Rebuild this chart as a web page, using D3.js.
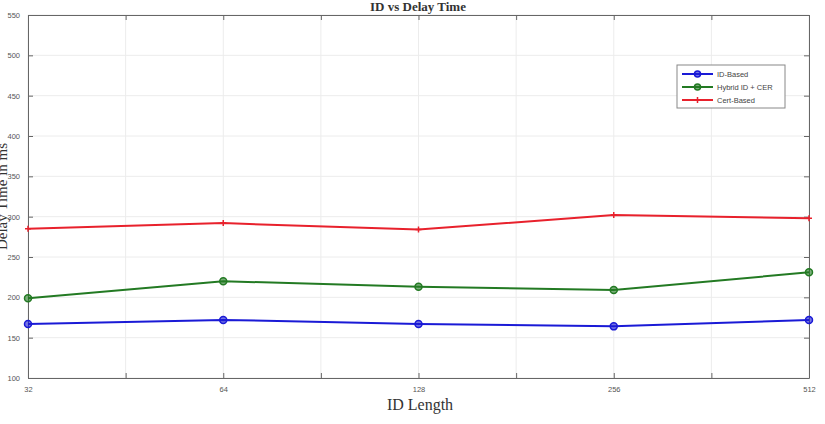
<!DOCTYPE html>
<html>
<head>
<meta charset="utf-8">
<script src="https://cdn.jsdelivr.net/npm/d3@7"></script>
<style>
  body { margin: 0; background: #fff; }
  svg { display: block; }
</style>
</head>
<body>
<div id="chart"></div>
<script>
const idLengths = ['32', '64', '128', '256', '512'];
const idBased = [167, 172, 167, 164, 172];
const hybrid = [199, 220, 213, 209, 231];
const certBased = [285, 292, 284, 302, 298];
const yTicks = [100, 150, 200, 250, 300, 350, 400, 450, 500, 550];
const seriesNames = ['ID-Based', 'Hybrid ID + CER', 'Cert-Based'];

const w = 825;
const h = 424;
const plotLeft = 28, plotRight = 809, plotTop = 15, plotBottom = 378;

const series = [
  { name: seriesNames[0], values: idBased, color: '#1a1ad6', marker: 'circle' },
  { name: seriesNames[1], values: hybrid, color: '#237a23', marker: 'circle' },
  { name: seriesNames[2], values: certBased, color: '#e8212c', marker: 'plus' }
];

const xScale = d3.scaleLinear()
                 .domain([0, idLengths.length - 1])
                 .range([plotLeft, plotRight]);

const yScale = d3.scaleLinear()
                 .domain([100, 550])
                 .range([plotBottom, plotTop]);

const svg = d3.select('#chart')
              .append('svg')
              .attr('width', w)
              .attr('height', h);

// half steps on x, like the reference
const xTicks = d3.range(0, idLengths.length - 0.99, 0.5);

// grid
svg.append('g')
   .selectAll('line')
   .data(yTicks)
   .enter()
   .append('line')
   .attr('x1', plotLeft)
   .attr('x2', plotRight)
   .attr('y1', d => yScale(d))
   .attr('y2', d => yScale(d))
   .style('stroke', '#ececec');

svg.append('g')
   .selectAll('line')
   .data(xTicks)
   .enter()
   .append('line')
   .attr('x1', d => xScale(d))
   .attr('x2', d => xScale(d))
   .attr('y1', plotTop)
   .attr('y2', plotBottom)
   .style('stroke', '#ececec');

const xAxis = d3.axisBottom(xScale)
                .tickValues(xTicks)
                .tickSizeInner(-5)
                .tickSizeOuter(0)
                .tickPadding(9)
                .tickFormat(d => Number.isInteger(d) ? idLengths[d] : '');

const yAxis = d3.axisLeft(yScale)
                .tickValues(yTicks)
                .tickSizeInner(-5)
                .tickSizeOuter(0)
                .tickPadding(8)
                .tickFormat(d3.format('d'));

const axisStyle = g => {
  g.select('.domain').style('stroke', '#666');
  g.selectAll('.tick line').style('stroke', '#666');
  g.selectAll('text').style('fill', '#555').style('font-family', 'Liberation Sans, Arial, sans-serif').style('font-size', '7.5px');
};

svg.append('g')
   .attr('transform', 'translate(0,' + plotBottom + ')')
   .call(xAxis)
   .call(axisStyle);

svg.append('g')
   .attr('transform', 'translate(' + plotLeft + ',0)')
   .call(yAxis)
   .call(axisStyle);

// top and right box edges with inward ticks
svg.append('g')
   .attr('transform', 'translate(0,' + plotTop + ')')
   .call(d3.axisTop(xScale).tickValues(xTicks).tickSizeInner(-5).tickSizeOuter(0).tickFormat(''))
   .call(axisStyle);

svg.append('g')
   .attr('transform', 'translate(' + plotRight + ',0)')
   .call(d3.axisRight(yScale).tickValues(yTicks).tickSizeInner(-5).tickSizeOuter(0).tickFormat(''))
   .call(axisStyle);

const line = d3.line()
               .x((d, i) => xScale(i))
               .y(d => yScale(d));

series.forEach(s => {
  svg.append('path')
     .datum(s.values)
     .attr('d', line)
     .style('fill', 'none')
     .style('stroke', s.color)
     .style('stroke-width', 2);

  if (s.marker === 'circle') {
    svg.selectAll(null)
       .data(s.values)
       .enter()
       .append('circle')
       .attr('cx', (d, i) => xScale(i))
       .attr('cy', d => yScale(d))
       .attr('r', 3.5)
       .style('fill', s.color)
       .style('fill-opacity', 0.6)
       .style('stroke', s.color)
       .style('stroke-width', 1.5);
  } else {
    svg.selectAll(null)
       .data(s.values)
       .enter()
       .append('path')
       .attr('d', (d, i) => {
         const x = xScale(i), y = yScale(d);
         return 'M' + (x - 3) + ',' + y + 'H' + (x + 3) + 'M' + x + ',' + (y - 3) + 'V' + (y + 3);
       })
       .style('stroke', s.color)
       .style('stroke-width', 1.5);
  }
});

// legend
const legend = svg.append('g').attr('transform', 'translate(677,65)');
legend.append('rect')
      .attr('width', 108)
      .attr('height', 43)
      .style('fill', '#fff')
      .style('stroke', '#888');

series.forEach((s, i) => {
  const y = 9 + i * 13;
  legend.append('line')
        .attr('x1', 5).attr('x2', 36)
        .attr('y1', y).attr('y2', y)
        .style('stroke', s.color)
        .style('stroke-width', 2);
  if (s.marker === 'circle') {
    legend.append('circle')
          .attr('cx', 20.5).attr('cy', y).attr('r', 3)
          .style('fill', s.color).style('fill-opacity', 0.6)
          .style('stroke', s.color).style('stroke-width', 1.5);
  } else {
    legend.append('path')
          .attr('d', 'M17.5,' + y + 'H23.5M20.5,' + (y - 3) + 'V' + (y + 3))
          .style('stroke', s.color).style('stroke-width', 1.5);
  }
  legend.append('text')
        .attr('x', 40)
        .attr('y', y + 2.5)
        .text(s.name)
        .style('font-family', 'Liberation Sans, Arial, sans-serif')
        .style('font-size', '7.5px')
        .style('fill', '#444');
});

// titles
svg.append('text')
   .attr('x', 418)
   .attr('y', 11)
   .attr('text-anchor', 'middle')
   .text('ID vs Delay Time')
   .style('font-family', 'Liberation Serif, serif')
   .style('font-weight', 'bold')
   .style('font-size', '13px')
   .style('fill', '#333');

svg.append('text')
   .attr('x', 420)
   .attr('y', 410)
   .attr('text-anchor', 'middle')
   .text('ID Length')
   .style('font-family', 'Liberation Serif, serif')
   .style('font-size', '16px')
   .style('fill', '#333');

svg.append('text')
   .attr('transform', 'translate(7,' + ((plotTop + plotBottom) / 2) + ') rotate(-90)')
   .attr('text-anchor', 'middle')
   .text('Delay Time in ms')
   .style('font-family', 'Liberation Serif, serif')
   .style('font-size', '15px')
   .style('fill', '#333');
</script>
</body>
</html>
